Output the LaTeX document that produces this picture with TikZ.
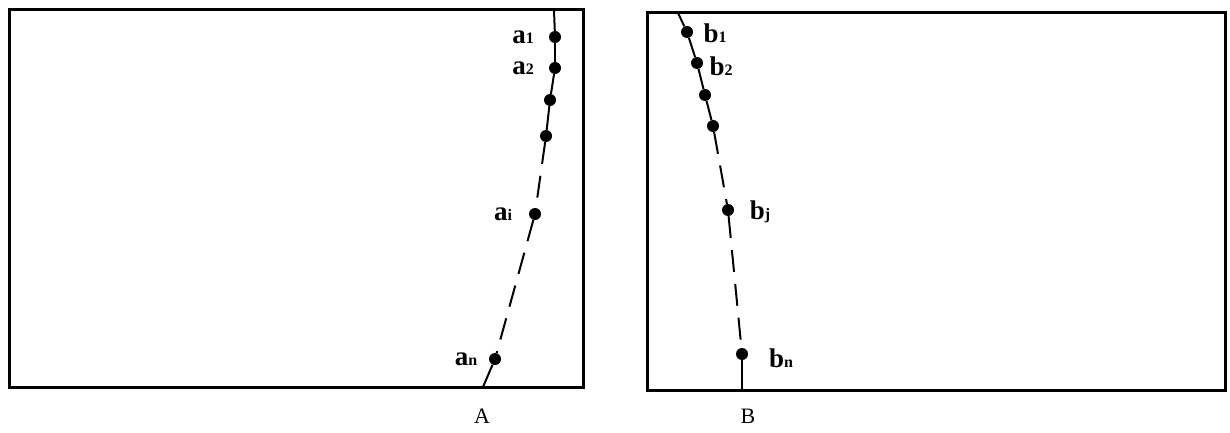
\documentclass[tikz,border=0pt]{standalone}
\usepackage{fontspec}
\setmainfont{Liberation Serif}
\usepackage{tikz}

\newcommand{\lab}[2]{\textbf{#1}{\fontsize{16}{16}\selectfont\textbf{#2}}}

\tikzset{
  pt/.style={circle,fill=black,inner sep=0pt,minimum size=12pt},
  lbl/.style={font=\fontsize{27}{27}\selectfont,inner sep=0pt},
  panelname/.style={font=\fontsize{22}{22}\selectfont,inner sep=0pt},
  frame/.style={line width=3pt},
  seg/.style={line width=2pt},
  gap/.style={line width=2pt,dash pattern=on 22pt off 12pt}
}

\begin{document}
\begin{tikzpicture}[x=1pt,y=-1pt]
    \useasboundingbox (0,0) rectangle (1230,433);

    % Panel A
    \draw[frame] (9,10) rectangle (583,387);
    \coordinate (atop) at (554,10);
    \coordinate (abot) at (483,387);
    \node[pt] (a1) at (555,37) {};
    \node[pt] (a2) at (555,68) {};
    \node[pt] (a3) at (550,100) {};
    \node[pt] (a4) at (546,136) {};
    \node[pt] (ai) at (535,214) {};
    \node[pt] (an) at (495,359) {};

    \draw[seg] (atop) -- (a1);
    \draw[seg] (a1) -- (a2);
    \draw[seg] (a2) -- (a3);
    \draw[seg] (a3) -- (a4);
    \draw[gap] (a4) -- (ai);
    \draw[gap] (ai) -- (an);
    \draw[seg] (an) -- (abot);

    \node[lbl] (la1) at (523,37) {\lab{a}{1}};
    \node[lbl] (la2) at (523,68) {\lab{a}{2}};
    \node[lbl] (lai) at (503,214) {\lab{a}{i}};
    \node[lbl] (lan) at (466,359) {\lab{a}{n}};
    \node[panelname] (A) at (482,416) {A};

    % Panel B
    \draw[frame] (647,13) rectangle (1225,390);
    \coordinate (btop) at (678,13);
    \coordinate (bbot) at (742,390);
    \node[pt] (b1) at (687,32) {};
    \node[pt] (b2) at (697,63) {};
    \node[pt] (b3) at (705,95) {};
    \node[pt] (b4) at (713,126) {};
    \node[pt] (bj) at (728,210) {};
    \node[pt] (bn) at (742,354) {};

    \draw[seg] (btop) -- (b1);
    \draw[seg] (b1) -- (b2);
    \draw[seg] (b2) -- (b3);
    \draw[seg] (b3) -- (b4);
    \draw[gap] (b4) -- (bj);
    \draw[gap] (bj) -- (bn);
    \draw[seg] (bn) -- (bbot);

    \node[lbl] (lb1) at (715,33) {\lab{b}{1}};
    \node[lbl] (lb2) at (721,66) {\lab{b}{2}};
    \node[lbl] (lbj) at (760,212) {\lab{b}{j}};
    \node[lbl] (lbn) at (781,358) {\lab{b}{n}};
    \node[panelname] (B) at (748,416) {B};
\end{tikzpicture}
\end{document}
